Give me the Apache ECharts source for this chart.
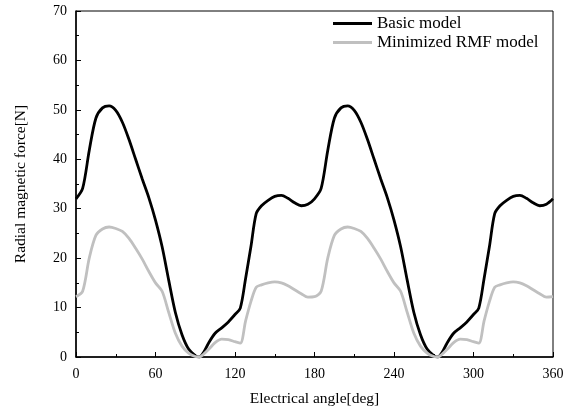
<!DOCTYPE html>
<html>
<head>
<meta charset="utf-8">
<script src="https://cdn.jsdelivr.net/npm/echarts@6/dist/echarts.min.js"></script>
<style>
  html, body { margin: 0; padding: 0; background: #fff; }
  #chart { width: 570px; height: 415px; }
</style>
</head>
<body>
<div id="chart"></div>
<script>
// electrical angle [deg]
var angles = [0, 5, 10, 15, 20, 25, 30, 35, 40, 45, 50, 55, 60, 65, 70, 75, 80, 85, 90, 93, 96,
  100, 105, 110, 115, 120, 124, 128, 132, 136, 140, 145, 150, 155, 160, 165, 170, 175, 180,
  185, 190, 195, 200, 205, 210, 215, 220, 225, 230, 235, 240, 245, 250, 255, 260, 265, 270, 273, 276,
  280, 285, 290, 295, 300, 304, 308, 312, 316, 320, 325, 330, 335, 340, 345, 350, 355, 360];

// radial magnetic force [N]
var basicModel = [32.0, 34.1, 41.8, 48.3, 50.4, 50.8, 49.9, 47.5, 44.0, 40.0, 36.0, 32.2, 27.7, 22.3, 15.5, 9.0, 4.5, 1.6, 0.3, 0.0, 0.8,
  2.8, 4.8, 5.9, 7.1, 8.6, 9.9, 15.9, 22.3, 29.0, 30.6, 31.7, 32.5, 32.7, 32.1, 31.2, 30.6, 30.9, 32.0,
  34.1, 41.8, 48.3, 50.4, 50.8, 49.9, 47.5, 44.0, 40.0, 36.0, 32.2, 27.7, 22.3, 15.5, 9.0, 4.5, 1.6, 0.3, 0.0, 0.8,
  2.8, 4.8, 5.9, 7.1, 8.6, 9.9, 15.9, 22.3, 29.0, 30.6, 31.7, 32.5, 32.7, 32.1, 31.2, 30.6, 30.9, 32.0];

var minimizedModel = [12.2, 13.3, 20.0, 24.6, 25.9, 26.3, 26.0, 25.4, 24.0, 22.0, 19.8, 17.3, 15.0, 13.3, 9.0, 4.8, 2.2, 0.8, 0.1, 0.0, 0.5,
  1.5, 2.9, 3.6, 3.5, 3.1, 2.8, 7.3, 11.2, 14.1, 14.6, 15.0, 15.2, 15.0, 14.4, 13.6, 12.8, 12.1, 12.2,
  13.3, 20.0, 24.6, 25.9, 26.3, 26.0, 25.4, 24.0, 22.0, 19.8, 17.3, 15.0, 13.3, 9.0, 4.8, 2.2, 0.8, 0.1, 0.0, 0.5,
  1.5, 2.9, 3.6, 3.5, 3.1, 2.8, 7.3, 11.2, 14.1, 14.6, 15.0, 15.2, 15.0, 14.4, 13.6, 12.8, 12.1, 12.2];

function pairs(ys) {
  return angles.map(function (a, i) { return [a, ys[i]]; });
}

var font = 'Liberation Serif, Times New Roman, serif';
var chart = echarts.init(document.getElementById('chart'));
chart.setOption({
  animation: false,
  textStyle: { fontFamily: font },
  grid: { left: 76, right: 17, top: 11, bottom: 58, show: true, borderColor: '#000', borderWidth: 1 },
  legend: {
    orient: 'vertical',
    left: 333,
    top: 15,
    padding: 0,
    icon: 'rect',
    itemWidth: 39,
    itemHeight: 3,
    itemGap: 2,
    textStyle: { fontFamily: font, fontSize: 17, color: '#000' },
    data: ['Basic model', 'Minimized RMF model']
  },
  xAxis: {
    type: 'value',
    min: 0, max: 360, interval: 60,
    name: 'Electrical angle[deg]',
    nameLocation: 'middle',
    nameGap: 34,
    nameTextStyle: { fontFamily: font, fontSize: 15.5, color: '#000' },
    axisLine: { lineStyle: { color: '#000', width: 1.5 } },
    axisTick: { inside: true, length: 5, lineStyle: { color: '#000' } },
    minorTick: { show: true, splitNumber: 2, length: 3, lineStyle: { color: '#000' } },
    axisLabel: { fontFamily: font, fontSize: 14, color: '#000', margin: 10 },
    splitLine: { show: false }
  },
  yAxis: {
    type: 'value',
    min: 0, max: 70, interval: 10,
    name: 'Radial magnetic force[N]',
    nameLocation: 'middle',
    nameGap: 47,
    nameTextStyle: { fontFamily: font, fontSize: 15.5, color: '#000' },
    axisLine: { show: true, lineStyle: { color: '#000', width: 1.5 } },
    axisTick: { show: true, inside: true, length: 5, lineStyle: { color: '#000' } },
    minorTick: { show: true, splitNumber: 2, length: 3, lineStyle: { color: '#000' } },
    axisLabel: { fontFamily: font, fontSize: 14, color: '#000', margin: 9 },
    splitLine: { show: false }
  },
  series: [
    {
      name: 'Basic model',
      type: 'line',
      data: pairs(basicModel),
      symbol: 'none',
      smooth: 0.3,
      lineStyle: { color: '#000', width: 2.8 },
      itemStyle: { color: '#000' }
    },
    {
      name: 'Minimized RMF model',
      type: 'line',
      data: pairs(minimizedModel),
      symbol: 'none',
      smooth: 0.3,
      lineStyle: { color: '#c0c0c0', width: 2.8 },
      itemStyle: { color: '#c0c0c0' }
    }
  ]
});
</script>
</body>
</html>
